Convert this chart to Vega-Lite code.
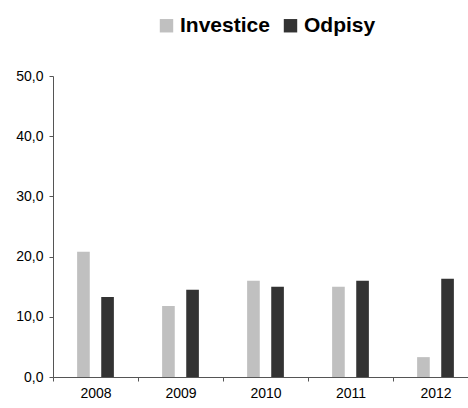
{
  "$schema": "https://vega.github.io/schema/vega-lite/v6.json",
  "autosize": "none",
  "padding": {"left": 53, "top": 76, "right": 0, "bottom": 31},
  "width": 425,
  "height": 301,
  "background": "white",
  "data": {
    "values": [
      {"year": "2008", "series": "Investice", "value": 20.8},
      {"year": "2008", "series": "Odpisy", "value": 13.3},
      {"year": "2009", "series": "Investice", "value": 11.8},
      {"year": "2009", "series": "Odpisy", "value": 14.5},
      {"year": "2010", "series": "Investice", "value": 16.0},
      {"year": "2010", "series": "Odpisy", "value": 15.0},
      {"year": "2011", "series": "Investice", "value": 15.0},
      {"year": "2011", "series": "Odpisy", "value": 16.0},
      {"year": "2012", "series": "Investice", "value": 3.3},
      {"year": "2012", "series": "Odpisy", "value": 16.3}
    ]
  },
  "mark": {"type": "bar"},
  "encoding": {
    "x": {
      "field": "year", "type": "nominal",
      "scale": {"paddingInner": 0, "paddingOuter": 0},
      "axis": {
        "title": null, "labelAngle": 0, "tickBand": "extent",
        "domainColor": "#555555", "tickColor": "#555555", "tickSize": 4,
        "labelFont": "Liberation Sans", "labelFontSize": 14, "labelColor": "#000000",
        "labelPadding": 5, "grid": false
      }
    },
    "xOffset": {
      "field": "series", "type": "nominal",
      "scale": {"paddingInner": 0.476, "paddingOuter": 1.286}
    },
    "y": {
      "field": "value", "type": "quantitative",
      "scale": {"domain": [0, 50], "nice": false},
      "axis": {
        "title": null, "values": [0, 10, 20, 30, 40, 50], "grid": false,
        "labelExpr": "replace(format(datum.value, '.1f'), '.', ',')",
        "domainColor": "#555555", "tickColor": "#555555", "tickSize": 4,
        "labelFont": "Liberation Sans", "labelFontSize": 14, "labelColor": "#000000",
        "labelPadding": 6
      }
    },
    "color": {
      "field": "series", "type": "nominal",
      "scale": {"domain": ["Investice", "Odpisy"], "range": ["#c0c0c0", "#333333"]},
      "legend": {
        "title": null, "orient": "top", "direction": "horizontal",
        "symbolType": "square", "symbolSize": 180, "symbolStrokeWidth": 0,
        "symbolOpacity": 1,
        "labelFont": "Liberation Sans", "labelFontSize": 21, "labelFontWeight": "bold",
        "labelColor": "#000000", "labelOffset": 3, "columnPadding": 10,
        "offset": 40
      }
    }
  },
  "config": {
    "view": {"stroke": null},
    "legend": {"layout": {"top": {"anchor": "middle"}}}
  }
}
